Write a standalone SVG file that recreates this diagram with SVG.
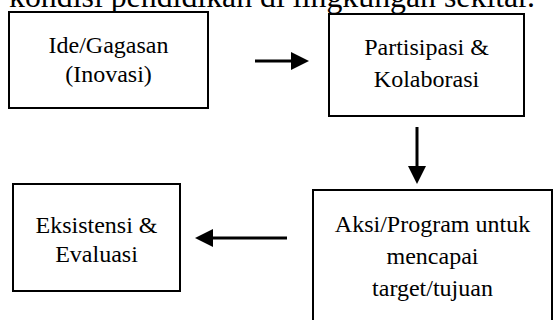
<svg xmlns="http://www.w3.org/2000/svg" width="554" height="320" viewBox="0 0 554 320">
<style>
.box{fill:#fff;stroke:#000;stroke-width:2}
.t{font-family:'Liberation Serif','Times New Roman','DejaVu Serif',serif;font-size:24px;fill:#000;text-anchor:middle}
.top{font-family:'Liberation Serif','Times New Roman','DejaVu Serif',serif;font-size:32px;fill:#000}
.c{stroke:#000;stroke-width:3;fill:none}
</style>
<defs>
<marker id="ah" markerWidth="6" markerHeight="6" refX="0" refY="3" orient="auto" markerUnits="strokeWidth" viewBox="0 0 6 6">
<path d="M0,0 L6,3 L0,6 Z" fill="#000"/>
</marker>
</defs>
<rect width="554" height="320" fill="#fff"/>
<text class="top" x="9" y="7" textLength="526" lengthAdjust="spacingAndGlyphs">kondisi pendidikan di lingkungan sekitar.</text>
<g id="node-ide">
<rect class="box" x="9" y="12" width="199" height="96"/>
<text class="t" x="108.5" y="53">Ide/Gagasan</text>
<text class="t" x="108.5" y="82">(Inovasi)</text>
</g>
<g id="node-partisipasi">
<rect class="box" x="329" y="14" width="195" height="102"/>
<text class="t" x="426.5" y="55">Partisipasi &amp;</text>
<text class="t" x="426.5" y="87">Kolaborasi</text>
</g>
<g id="node-eksistensi">
<rect class="box" x="13" y="184" width="167" height="107"/>
<text class="t" x="96.5" y="233">Eksistensi &amp;</text>
<text class="t" x="96.5" y="262">Evaluasi</text>
</g>
<g id="node-aksi">
<rect class="box" x="313" y="190" width="239" height="140"/>
<text class="t" x="432.5" y="232">Aksi/Program untuk</text>
<text class="t" x="432.5" y="264">mencapai</text>
<text class="t" x="432.5" y="296">target/tujuan</text>
</g>
<g id="connectors">
<line class="c" x1="255" y1="61" x2="291" y2="61" marker-end="url(#ah)"/>
<line class="c" x1="417" y1="127" x2="417" y2="166" marker-end="url(#ah)"/>
<line class="c" x1="287" y1="238" x2="213" y2="238" marker-end="url(#ah)"/>
</g>
</svg>
